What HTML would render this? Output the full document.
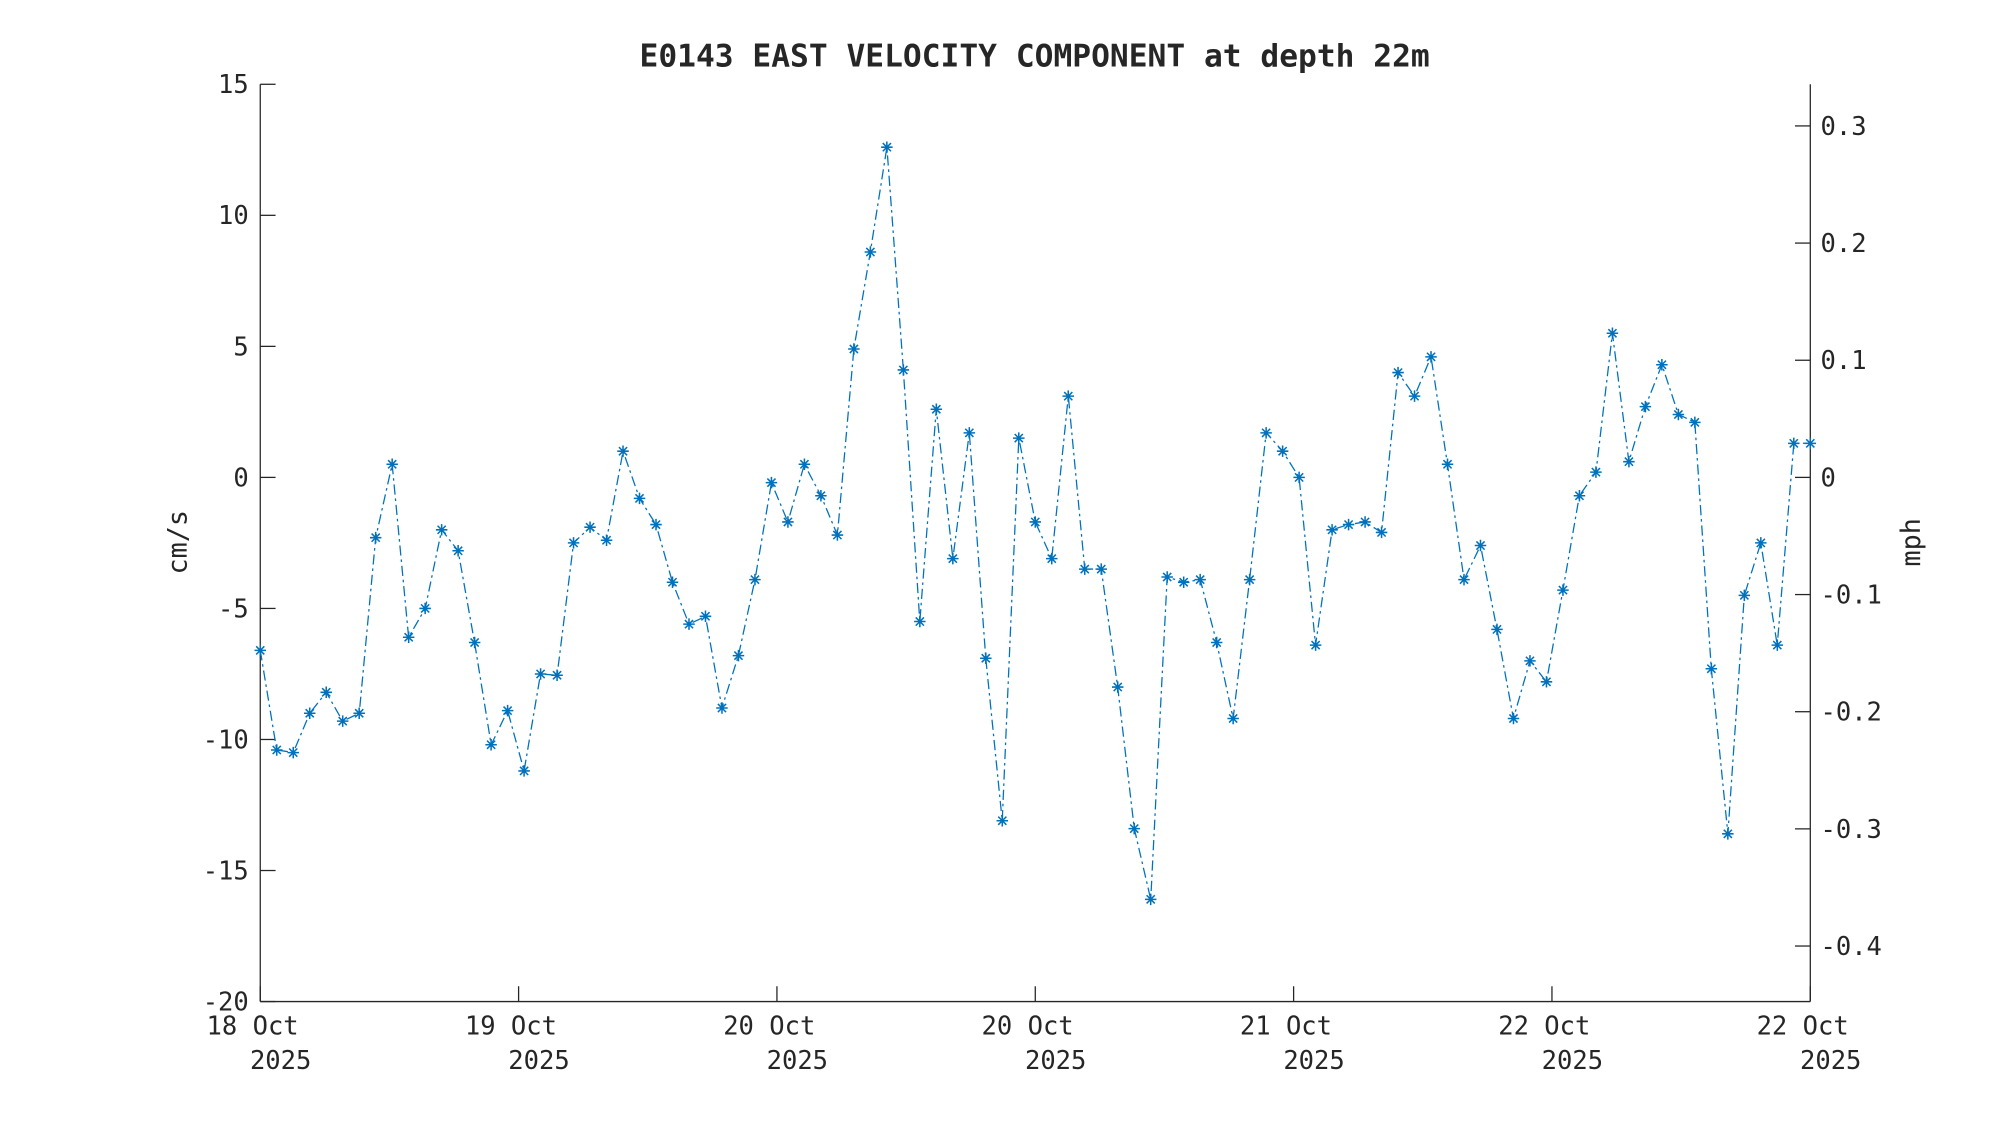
<!DOCTYPE html>
<html><head><meta charset="utf-8"><style>
html,body{margin:0;padding:0;background:#fff;}
svg{display:block;}
text{font-family:"DejaVu Sans Mono","Liberation Mono",monospace;fill:#262626;}
</style></head><body>
<svg id="s" xmlns="http://www.w3.org/2000/svg" width="2000" height="1125" viewBox="0 0 1567.7 881.7">
<rect width="1567.7" height="881.7" fill="#fff"/>
<text x="811" y="52" text-anchor="middle" font-size="24.5" font-weight="bold" fill="#000">E0143 EAST VELOCITY COMPONENT at depth 22m</text>
<g stroke="#262626" stroke-width="1" fill="none">
<line x1="204" y1="66" x2="204" y2="785"/>
<line x1="204" y1="785" x2="1419" y2="785"/>
<line x1="1419" y1="66" x2="1419" y2="785"/>
</g>
<g id="ticks" stroke="#262626" stroke-width="1"></g>
<g id="lbl" font-size="20"></g>
<text transform="translate(146,425) rotate(-90)" text-anchor="middle" font-size="21">cm/s</text>
<text transform="translate(1505,425) rotate(-90)" text-anchor="middle" font-size="21">mph</text>
<path id="ln" fill="none" stroke="#0072BD" stroke-width="1" stroke-dasharray="8,3,2,3"/>
<g id="mk" stroke="#0072BD" stroke-width="1.2"></g>
</svg>
<script>
var NS="http://www.w3.org/2000/svg";
function el(p,t,a,txt){var e=document.createElementNS(NS,t);for(var k in a)e.setAttribute(k,a[k]);if(txt!=null)e.textContent=txt;p.appendChild(e);return e;}
var T=document.getElementById('ticks'),L=document.getElementById('lbl');
function Y(v){return 785-(v+20)*719/35;}
for(var v=-20;v<=15;v+=5){var y=Y(v);el(T,'line',{x1:204,y1:y,x2:216,y2:y});el(L,'text',{x:195,y:y+7,'text-anchor':'end'},String(v));}
var mph=[0.3,0.2,0.1,0,-0.1,-0.2,-0.3,-0.4];
mph.forEach(function(m){var y=Y(m*44.704);el(T,'line',{x1:1407,y1:y,x2:1419,y2:y});el(L,'text',{x:1427,y:y+7},m===0?'0':String(m));});
var xs=[204,406.5,609,811.5,1014,1216.5,1419],lb=['18 Oct','19 Oct','20 Oct','20 Oct','21 Oct','22 Oct','22 Oct'];
xs.forEach(function(x,i){el(T,'line',{x1:x,y1:785,x2:x,y2:773});el(L,'text',{x:x-6,y:811,'text-anchor':'middle'},lb[i]);el(L,'text',{x:x+16,y:838,'text-anchor':'middle'},'2025');});
var d=[-6.6,-10.4,-10.5,-9.0,-8.2,-9.3,-9.0,-2.3,0.5,-6.1,-5.0,-2.0,-2.8,-6.3,-10.2,-8.9,-11.2,-7.5,-7.55,-2.5,-1.9,-2.4,1.0,-0.8,-1.8,-4.0,-5.6,-5.3,-8.8,-6.8,-3.9,-0.2,-1.7,0.5,-0.7,-2.2,4.9,8.6,12.6,4.1,-5.5,2.6,-3.1,1.7,-6.9,-13.1,1.5,-1.7,-3.1,3.1,-3.5,-3.5,-8.0,-13.4,-16.1,-3.8,-4.0,-3.9,-6.3,-9.2,-3.9,1.7,1.0,0.0,-6.4,-2.0,-1.8,-1.7,-2.1,4.0,3.1,4.6,0.5,-3.9,-2.6,-5.8,-9.2,-7.0,-7.8,-4.3,-0.7,0.2,5.5,0.6,2.7,4.3,2.4,2.1,-7.3,-13.6,-4.5,-2.5,-6.4,1.3,1.3];
var n=d.length,p='',M=document.getElementById('mk');
for(var i=0;i<n;i++){var x=204+i*(1215/(n-1)),y=Y(d[i]);p+=(i?'L':'M')+x.toFixed(1)+','+y.toFixed(1);
var r=4.5,q=3.2;el(M,'path',{d:'M'+(x-r)+','+y+'h'+(2*r)+'M'+x+','+(y-r)+'v'+(2*r)+'M'+(x-q)+','+(y-q)+'l'+(2*q)+','+(2*q)+'M'+(x-q)+','+(y+q)+'l'+(2*q)+','+(-2*q)});}
document.getElementById('ln').setAttribute('d',p);
</script>
</body></html>
